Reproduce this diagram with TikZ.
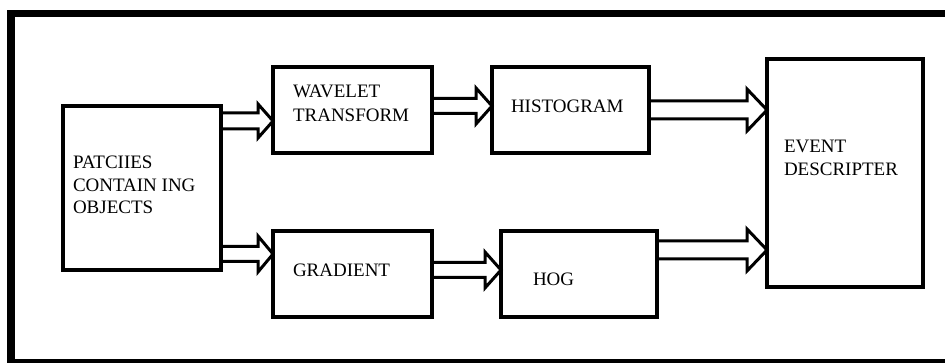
\documentclass[tikz,border=0pt]{standalone}
\usepackage{fontspec}
\setmainfont{Liberation Serif}
\usetikzlibrary{calc}
\tikzset{
  box/.style={draw=black, line width=3.2pt, fill=white, rectangle, inner sep=0pt, outer sep=0pt},
  lbl/.style={anchor=base west, inner sep=0pt, outer sep=0pt, font=\fontsize{19}{23}\selectfont},
  blockarrow/.style={draw=black, line width=3pt, line join=miter}
}
% #1 start node anchor, #2 tip node anchor, #3 half shaft, #4 half head, #5 head length
\newcommand\blockarr[5]{%
  \draw[blockarrow] let \p1=(#1), \p2=(#2) in
    (\x1,\y1+#3) -- (\x2-#5,\y1+#3) -- (\x2-#5,\y1+#4) -- (\x2,\y1)
    -- (\x2-#5,\y1-#4) -- (\x2-#5,\y1-#3) -- (\x1,\y1-#3);}
\begin{document}
\begin{tikzpicture}[x=1pt,y=-1pt]
\useasboundingbox (0,0) rectangle (945,363);
\fill[white] (0,0) rectangle (945,363);
% frame
\fill[black] (7,10) rectangle (945,17);
\fill[black] (7,10) rectangle (15,363);
\fill[black] (7,359) rectangle (945,363);
% boxes
\node[box, minimum width=158pt, minimum height=164pt] (P) at (142,188) {};
\node[box, minimum width=159pt, minimum height=86pt] (W) at (352.5,110) {};
\node[box, minimum width=157pt, minimum height=86pt] (H) at (570.5,110) {};
\node[box, minimum width=159pt, minimum height=86pt] (G) at (352.5,274) {};
\node[box, minimum width=156pt, minimum height=86pt] (O) at (579,274) {};
\node[box, minimum width=156pt, minimum height=228pt] (E) at (845,173) {};
% texts
\node[lbl] (p1) at (73,169) {PATCIIES};
\node[lbl] (p2) at (73,192) {CONTAIN ING};
\node[lbl] (p3) at (73,214) {OBJECTS};
\node[lbl] (w1) at (293,98) {WAVELET};
\node[lbl] (w2) at (293,122) {TRANSFORM};
\node[lbl] (h1) at (511,113) {HISTOGRAM};
\node[lbl] (g1) at (293,277) {GRADIENT};
\node[lbl] (o1) at (533,286) {HOG};
\node[lbl] (e1) at (784,153) {EVENT};
\node[lbl] (e2) at (784,176) {DESCRIPTER};
% arrow anchor coordinates
\coordinate (pw) at (P.east |- 0,121);
\coordinate (pg) at (P.east |- 0,254);
\coordinate (wh) at (W.east |- 0,106);
\coordinate (go) at (G.east |- 0,270);
\coordinate (he) at (H.east |- 0,110);
\coordinate (oe) at (O.east |- 0,250);
\blockarr{pw}{W.west |- pw}{8pt}{17pt}{15pt}
\blockarr{pg}{G.west |- pg}{7.5pt}{18pt}{15pt}
\blockarr{wh}{H.west |- wh}{7.5pt}{18pt}{16pt}
\blockarr{go}{O.west |- go}{7.5pt}{18pt}{16pt}
\blockarr{he}{E.west |- he}{9pt}{21pt}{20pt}
\blockarr{oe}{E.west |- oe}{9pt}{21pt}{20pt}
\end{tikzpicture}
\end{document}
